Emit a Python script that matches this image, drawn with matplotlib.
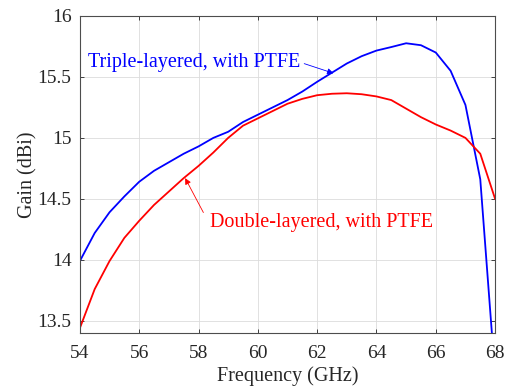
import numpy as np
import matplotlib.pyplot as plt

plt.rcParams['font.family'] = ['Liberation Serif', 'DejaVu Serif']
plt.rcParams['mathtext.fontset'] = 'stix'

# frequency sweep (GHz)
freq = [54, 54.5, 55, 55.5, 56, 56.5, 57, 57.5, 58, 58.5, 59, 59.5, 60, 60.5,
        61, 61.5, 62, 62.5, 63, 63.5, 64, 64.5, 65, 65.5, 66, 66.5, 67, 67.5, 68]

# gain (dBi)
gain_triple = [13.99, 14.22, 14.39, 14.52, 14.64, 14.73, 14.80, 14.87, 14.93, 15.00,
               15.05, 15.13, 15.19, 15.25, 15.31, 15.38, 15.46, 15.535, 15.61, 15.67,
               15.716, 15.745, 15.776, 15.76, 15.70, 15.55, 15.27, 14.66, 13.05]
gain_double = [13.44, 13.76, 13.99, 14.18, 14.32, 14.45, 14.56, 14.67, 14.77, 14.88,
               15.00, 15.10, 15.16, 15.22, 15.28, 15.32, 15.35, 15.362, 15.366, 15.358,
               15.34, 15.31, 15.24, 15.17, 15.11, 15.06, 15.00, 14.87, 14.50]

fig = plt.figure(figsize=(5.12, 3.89), dpi=100)
ax = fig.add_axes([0.156, 0.144, 0.811, 0.815])

ax.plot(freq, gain_triple, color='#0000ff', lw=1.3)
ax.plot(freq, gain_double, color='#ff0000', lw=1.3)

ax.set_xlim(54, 68)
ax.set_ylim(13.4, 16)
ax.set_xticks(np.arange(54, 69, 2))
ax.set_yticks([13.5, 14, 14.5, 15, 15.5, 16])
ax.set_yticklabels(['13.5', '14', '14.5', '15', '15.5', '16'])
ax.grid(True, color='#dcdcdc', lw=0.6)
ax.set_axisbelow(True)
ax.tick_params(direction='in', top=True, right=True, labelsize=14, colors='#262626',
               length=3, width=0.6)
ax.tick_params(axis='x', pad=9)
ax.tick_params(axis='y', pad=6)
for s in ax.spines.values():
    s.set_color('#4d4d4d')
    s.set_linewidth(0.8)

ax.set_xlabel('Frequency (GHz)', fontsize=14.5, color='#262626', labelpad=3)
ax.set_ylabel('Gain (dBi)', fontsize=14.5, color='#262626', labelpad=0)

ax.annotate('Triple-layered, with PTFE', xy=(62.55, 15.53), xytext=(54.27, 15.62),
            color='#0000ff', fontsize=14.5, va='center', ha='left',
            arrowprops=dict(arrowstyle='-|>', color='#0000ff', lw=0.6,
                            mutation_scale=9, shrinkA=1, shrinkB=0,
                            relpos=(1.0, 0.5)))
ax.annotate('Double-layered, with PTFE', xy=(57.55, 14.67), xytext=(58.39, 14.31),
            color='#ff0000', fontsize=14.5, va='center', ha='left',
            arrowprops=dict(arrowstyle='-|>', color='#ff0000', lw=0.6,
                            mutation_scale=9, shrinkA=0, shrinkB=0,
                            relpos=(-0.03, 1.0)))

fig.savefig('out.png', dpi=100)
